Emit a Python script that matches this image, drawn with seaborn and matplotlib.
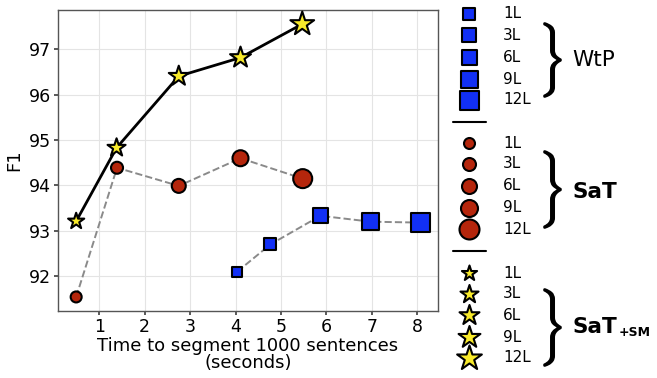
import numpy as np
import pandas as pd
import matplotlib
matplotlib.use("Agg")
import matplotlib.pyplot as plt
import seaborn as sns
from matplotlib.textpath import TextPath
from matplotlib.font_manager import FontProperties
from matplotlib.patches import PathPatch
from matplotlib.transforms import Affine2D

# ---- data ----
layers = ["1L", "3L", "6L", "9L", "12L"]
wtp_time = [4.04, 4.77, 5.87, 6.98, 8.08]
wtp_f1 = [92.10, 92.70, 93.33, 93.20, 93.18]
sat_time = [0.49, 1.39, 2.75, 4.11, 5.48]
sat_f1 = [91.54, 94.39, 93.99, 94.60, 94.15]
satsm_time = [0.49, 1.38, 2.75, 4.11, 5.47]
satsm_f1 = [93.21, 94.83, 96.41, 96.82, 97.56]
x_ticks = [1, 2, 3, 4, 5, 6, 7, 8]
y_ticks = [92, 93, 94, 95, 96, 97]
group_names = ["WtP", "SaT", "SaT"]

sns.set_theme(style="whitegrid")
plt.rcParams["font.family"] = ["DejaVu Sans"]
plt.rcParams["text.color"] = "black"
plt.rcParams["axes.labelcolor"] = "black"
plt.rcParams["xtick.color"] = "black"
plt.rcParams["ytick.color"] = "black"

W, H = 657, 378
fig = plt.figure(figsize=(W / 100, H / 100), dpi=100)
ax = fig.add_axes([58 / W, 1 - 311 / H, 380 / W, 301 / H])

# marker pixel sizes per layer (diameter in px)
sq_px = [10, 12, 15, 17, 19]
ci_px = [11, 12, 14, 16, 19]
st_px = [17, 19, 21, 22, 25]
to_pt = 72 / 100


def s_area(px_list, k=1.0):
    return {l: (p * to_pt * k) ** 2 for l, p in zip(layers, px_list)}


df_w = pd.DataFrame({"t": wtp_time, "f1": wtp_f1, "layer": layers})
df_s = pd.DataFrame({"t": sat_time, "f1": sat_f1, "layer": layers})
df_m = pd.DataFrame({"t": satsm_time, "f1": satsm_f1, "layer": layers})

blue = "#1230f5"
red = "#b5260c"
yellow = "#f8ea2a"

sns.lineplot(data=df_w, x="t", y="f1", ax=ax, color="#8a8a8a", lw=1.4,
             linestyle="--", sort=False, zorder=2)
sns.lineplot(data=df_s, x="t", y="f1", ax=ax, color="#8a8a8a", lw=1.4,
             linestyle="--", sort=False, zorder=2)
sns.lineplot(data=df_m, x="t", y="f1", ax=ax, color="black", lw=2.0,
             sort=False, zorder=2)

sns.scatterplot(data=df_w, x="t", y="f1", size="layer", sizes=s_area(sq_px),
                marker="s", color=blue, edgecolor="black", linewidth=1.5,
                legend=False, ax=ax, zorder=3)
sns.scatterplot(data=df_s, x="t", y="f1", size="layer", sizes=s_area(ci_px),
                marker="o", color=red, edgecolor="black", linewidth=1.5,
                legend=False, ax=ax, zorder=3)
sns.scatterplot(data=df_m, x="t", y="f1", size="layer", sizes=s_area(st_px, 1.0),
                marker="*", color=yellow, edgecolor="black", linewidth=1.5,
                legend=False, ax=ax, zorder=4)

ax.set_xlim(0.09, 8.46)
ax.set_ylim(91.23, 97.87)
ax.set_xticks(x_ticks)
ax.set_yticks(y_ticks)
ax.tick_params(labelsize=12.5, length=3, color="#444444", pad=2)
ax.tick_params(axis="both", which="major", bottom=True, left=True)
ax.grid(True, color="#e4e4e4", lw=0.8)
for sp in ax.spines.values():
    sp.set_color("#555555")
    sp.set_linewidth(1.0)
ax.set_xlabel("Time to segment 1000 sentences\n(seconds)", fontsize=13,
              labelpad=1, linespacing=0.9)
ax.set_ylabel("F1", fontsize=13, labelpad=4)

# ---- custom legend (pixel-coordinate overlay) ----
lax = fig.add_axes([0, 0, 1, 1], facecolor="none")
lax.set_xlim(0, W)
lax.set_ylim(H, 0)
lax.axis("off")

group_rows = [[14, 35, 57, 79, 100], [143, 164, 186, 208, 229], [273, 294, 315, 337, 358]]
group_markers = ["s", "o", "*"]
group_colors = [blue, red, yellow]
group_px = [[12, 14, 15, 17, 19], [11, 13, 15, 17, 20], [16, 19, 21, 23, 26]]
mx, lx = 469, 503
for rows, mk, col, pxs in zip(group_rows, group_markers, group_colors, group_px):
    for r, lab, p in zip(rows, layers, pxs):
        lax.scatter([mx], [r], s=(p * to_pt) ** 2, marker=mk, color=col,
                    edgecolor="black", linewidth=1.5, clip_on=False, zorder=3)
        lax.text(lx, r, lab, fontsize=11, va="center", ha="left")

for yy in [122, 251]:
    lax.plot([453, 486], [yy, yy], color="black", lw=1.5)

# braces
fp = FontProperties(family="DejaVu Sans", math_fontfamily="cm")
tp = TextPath((0, 0), r"$\}$", size=1, prop=fp)
ext = tp.get_extents()
brace_spans = [(23, 97), (151, 228), (289, 366)]
for (y0, y1) in brace_spans:
    x0, x1 = 544, 561
    tr = (Affine2D().translate(-ext.x0, -ext.y0)
          .scale((x1 - x0) / ext.width, -(y1 - y0) / ext.height)
          .translate(x0, y1))
    path = tr.transform_path(tp)
    lax.add_patch(PathPatch(path, facecolor="black", edgecolor="black",
                            linewidth=1.1, joinstyle="round"))

lax.text(572, 60, group_names[0], fontsize=15.5, va="center", ha="left")
lax.text(573, 192, group_names[1], fontsize=15.5, fontweight="bold",
         va="center", ha="left")
lax.text(573, 333, group_names[2], fontsize=15.5, fontweight="bold",
         va="baseline", ha="left")
lax.text(619, 336, "+SM", fontsize=9, fontweight="bold", va="baseline", ha="left")

fig.savefig("out.png", dpi=100)
